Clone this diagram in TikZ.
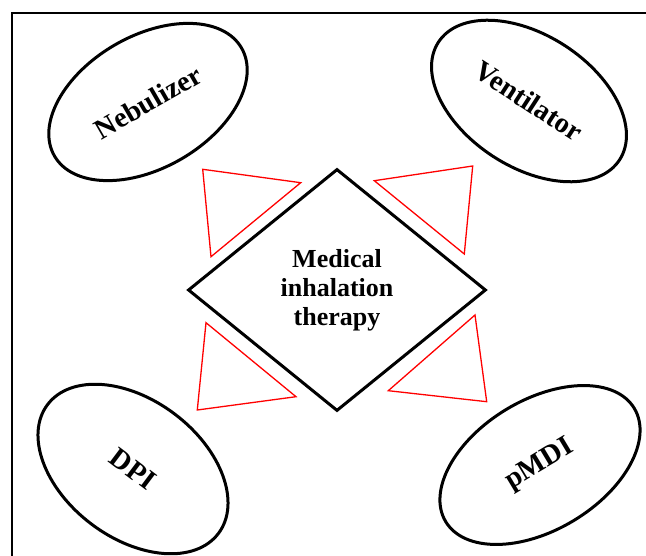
\documentclass[tikz,border=0pt]{standalone}
\usepackage{fontspec}
\setmainfont{Liberation Serif}
\usetikzlibrary{shapes.geometric}
\tikzset{
  device/.style={ellipse, draw=black, line width=3pt, inner sep=0pt,
    minimum width=216pt, minimum height=132pt,
    font=\fontsize{28.5}{30}\selectfont\bfseries},
  hub/.style={diamond, draw=black, line width=3pt, inner sep=0pt,
    minimum width=298pt, minimum height=242pt, align=center,
    font=\fontsize{26}{29}\selectfont\bfseries},
  redtri/.style={draw=red, line width=1.3pt, line join=miter},
  frame/.style={draw=black, line width=1.6pt}
}
\begin{document}
\begin{tikzpicture}[x=1pt,y=-1pt]
\useasboundingbox (0,0) rectangle (646,556);
\draw[frame] (12,556) -- (12,13) -- (646,13);
% centre
\node[hub] (hub) at (337,290) {Medical\\inhalation\\therapy};
% devices
\node[device, rotate=30] (neb) at (148,102) {Nebulizer};
\node[device, rotate=-33] (ven) at (529,101) {Ventilator};
\node[device, rotate=-37, minimum width=214pt, minimum height=138pt] (dpi) at (133,469) {DPI};
\node[device, rotate=31, minimum width=220pt, minimum height=130pt] (pmdi) at (540,465) {pMDI};
% red triangles
\draw[redtri] (202.7,169.3) -- (300.7,182.7) -- (211,256.7) -- cycle;
\draw[redtri] (374.3,180.7) -- (472.7,166) -- (464.3,254) -- cycle;
\draw[redtri] (206,322.7) -- (296,396.7) -- (197.3,410) -- cycle;
\draw[redtri] (475,315) -- (486.7,401.7) -- (388.3,390.7) -- cycle;
\end{tikzpicture}
\end{document}
